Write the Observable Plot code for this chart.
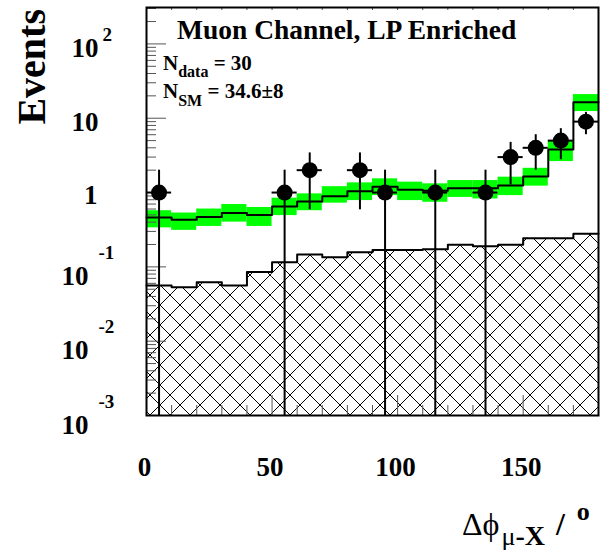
<!DOCTYPE html>
<html>
<head>
<meta charset="utf-8">
<script src="https://cdn.jsdelivr.net/npm/d3@7"></script>
<script src="https://cdn.jsdelivr.net/npm/@observablehq/plot@0.6"></script>
<style>
  html, body { margin: 0; padding: 0; background: #fff; overflow: hidden; }
  svg { display: block; }
  text { white-space: pre; }
</style>
</head>
<body>
<div id="chart"></div>
<script>
// ---- data ----
const binEdges = [0, 10, 20, 30, 40, 50, 60, 70, 80, 90, 100, 110, 120, 130, 140, 150, 160, 170];
const binWidth = 10;
const smValues   = [0.46, 0.43, 0.47, 0.53, 0.50, 0.65, 0.76, 0.89, 1.04, 1.20, 1.09, 1.06, 1.14, 1.14, 1.24, 1.64, 3.79, 16.4];
const smBandLow  = [0.335, 0.31, 0.35, 0.40, 0.35, 0.49, 0.57, 0.72, 0.78, 0.91, 0.78, 0.74, 0.86, 0.82, 0.91, 1.22, 2.61, 12.3];
const smBandHigh = [0.57, 0.53, 0.60, 0.69, 0.63, 0.84, 0.96, 1.20, 1.35, 1.53, 1.38, 1.31, 1.45, 1.45, 1.61, 2.12, 4.86, 20.8];
const bgValues   = [0.056, 0.053, 0.062, 0.056, 0.085, 0.115, 0.147, 0.135, 0.157, 0.169, 0.169, 0.172, 0.198, 0.190, 0.198, 0.243, 0.243, 0.278];
const dataX = [5, 55, 65, 85, 95, 115, 135, 145, 155, 165, 175];
const dataN = [1, 1, 2, 2, 1, 1, 1, 3, 4, 5, 9];
const xTickMajor = [0, 50, 100, 150];
const xTickMinor = [10, 20, 30, 40, 60, 70, 80, 90, 110, 120, 130, 140, 160, 170];
const yTickMajor = [1e-3, 1e-2, 1e-1, 1, 10, 100];
const yTickBase  = ["10", "10", "10", "1", "10", "10"];
const yTickExp   = ["-3", "-2", "-1", "", "", "2"];
const yDomain = [1e-3, 309];
const titleText = "Muon Channel, LP Enriched";
const yTitle = "Events";

// ---- derived tables ----
const bins = binEdges.map((x0, i) => ({x0, x1: x0 + binWidth, sm: smValues[i], lo: smBandLow[i], hi: smBandHigh[i], bg: bgValues[i]}));
const last = bins[bins.length - 1];
const stepSM = [...bins.map(b => ({x: b.x0, y: b.sm})), {x: last.x1, y: last.sm}];
const stepBG = [...bins.map(b => ({x: b.x0, y: b.bg})), {x: last.x1, y: last.bg}];
const pts = dataX.map((x, i) => {
  const n = dataN[i], e = Math.sqrt(n);
  return {x, n, lo: Math.max(n - e, yDomain[0]), hi: n + e};
});
const yMinor = d3.scaleLog().domain(yDomain).ticks().filter(v => !yTickMajor.some(m => Math.abs(m - v) / v < 1e-6));
const yLabels = yTickMajor.map((v, i) => ({v, base: yTickBase[i], exp: yTickExp[i]}));

const serif = "'Liberation Serif', 'Times New Roman', Times, serif";
const tickColor = "#555";

const chart = Plot.plot({
  width: 601,
  height: 551,
  marginLeft: 146,
  marginRight: 3,
  marginTop: 7,
  marginBottom: 136,
  x: {domain: [0, 180], axis: null},
  y: {type: "log", domain: yDomain, axis: null},
  marks: [
    Plot.rect(bins, {x1: "x0", x2: "x1", y1: () => yDomain[0], y2: "bg", fill: "url(#hatch)"}),
    Plot.line(stepBG, {x: "x", y: "y", curve: "step-after", stroke: "black", strokeWidth: 2}),
    Plot.rect(bins, {x1: "x0", x2: "x1", y1: "lo", y2: "hi", fill: "#00ff00"}),
    Plot.line(stepSM, {x: "x", y: "y", curve: "step-after", stroke: "black", strokeWidth: 2}),
    // inner ticks
    Plot.tickY(yMinor, {y: d => d, insetRight: 442, stroke: tickColor}),
    Plot.tickY(yTickMajor, {y: d => d, insetRight: 432, stroke: tickColor}),
    Plot.tickX(xTickMinor, {x: d => d, insetTop: 398, stroke: tickColor}),
    Plot.tickX(xTickMajor, {x: d => d, insetTop: 388, stroke: tickColor}),
    Plot.tickX([...xTickMinor, ...xTickMajor], {x: d => d, insetBottom: 405, stroke: tickColor}),
    // data with error bars
    Plot.ruleX(pts, {x: "x", y1: "lo", y2: "hi", stroke: "black", strokeWidth: 2}),
    Plot.ruleY(pts, {y: "n", x1: d => d.x - binWidth / 2, x2: d => d.x + binWidth / 2, stroke: "black", strokeWidth: 2}),
    Plot.dot(pts, {x: "x", y: "n", r: 8, fill: "black", stroke: "none"}),
    Plot.frame({stroke: "black", strokeWidth: 2}),
    // x tick labels
    Plot.text(xTickMajor, {x: d => d, text: d => String(d), frameAnchor: "bottom", dy: 60, dx: -2, lineAnchor: "bottom",
      fontSize: 27, fontWeight: "bold", fontFamily: serif, fill: "black"}),
    // y tick labels (base)
    Plot.text(yLabels.filter(d => d.v > 1), {y: "v", text: "base", frameAnchor: "left", textAnchor: "end", dx: -48, dy: 13,
      lineAnchor: "bottom", fontSize: 27, fontWeight: "bold", fontFamily: serif, fill: "black"}),
    Plot.text(yLabels.filter(d => d.v === 1), {y: "v", text: "base", frameAnchor: "left", textAnchor: "end", dx: -49, dy: 11,
      lineAnchor: "bottom", fontSize: 27, fontWeight: "bold", fontFamily: serif, fill: "black"}),
    Plot.text(yLabels.filter(d => d.v < 1), {y: "v", text: "base", frameAnchor: "left", textAnchor: "end", dx: -58, dy: 18,
      lineAnchor: "bottom", fontSize: 27, fontWeight: "bold", fontFamily: serif, fill: "black"}),
    // y tick labels (exponent)
    Plot.text(yLabels.filter(d => d.v > 1 && d.exp), {y: "v", text: "exp", frameAnchor: "left", textAnchor: "start", dx: -44, dy: -3,
      lineAnchor: "bottom", fontSize: 19, fontWeight: "bold", fontFamily: serif, fill: "black"}),
    Plot.text(yLabels.filter(d => d.v < 1), {y: "v", text: "exp", frameAnchor: "left", textAnchor: "start", dx: -48, dy: -8,
      lineAnchor: "bottom", fontSize: 19, fontWeight: "bold", fontFamily: serif, fill: "black"})
  ]
});

document.getElementById("chart").appendChild(chart);

const svg = d3.select(chart);
svg.append("defs").html(
  `<pattern id="hatch" patternUnits="userSpaceOnUse" width="20" height="20" x="10" y="15">
     <path d="M-5,-5L25,25M25,-5L-5,25" stroke="#000" stroke-width="1" fill="none"/>
   </pattern>`);

const ann = svg.append("g").attr("text-anchor", "start").attr("fill", "black");

// title inside the frame
ann.append("text")
  .attr("x", 177).attr("y", 39)
  .attr("font-family", serif).attr("font-weight", "bold").attr("font-size", 27.5)
  .text(titleText);

// N_data
const t1 = ann.append("text").attr("x", 163).attr("y", 70)
  .attr("font-family", serif).attr("font-weight", "bold").attr("font-size", 21);
t1.append("tspan").text("N");
t1.append("tspan").attr("font-size", 16).attr("dy", 7).text("data");
t1.append("tspan").attr("dy", -7).text(" = 30");

// N_SM
const t2 = ann.append("text").attr("x", 163).attr("y", 98)
  .attr("font-family", serif).attr("font-weight", "bold").attr("font-size", 21);
t2.append("tspan").text("N");
t2.append("tspan").attr("font-size", 16).attr("dy", 8).text("SM");
t2.append("tspan").attr("dy", -8).text(" = 34.6\u00b18");

// y title
ann.append("text")
  .attr("transform", "translate(45,9) rotate(-90)")
  .attr("text-anchor", "end")
  .attr("font-family", serif).attr("font-weight", "bold").attr("font-size", 40)
  .text(yTitle);

// x title
const xt = ann.append("text").attr("x", 462).attr("y", 535)
  .attr("font-family", serif).attr("font-size", 32);
xt.append("tspan").text("\u0394\u03d5");
xt.append("tspan").attr("font-size", 26).attr("dy", 10).attr("dx", 2).text("\u03bc");
xt.append("tspan").attr("font-size", 28).attr("font-weight", "bold").text("-X");
xt.append("tspan").attr("font-weight", "bold").attr("dy", -10).attr("dx", 3).text(" / ");
xt.append("tspan").attr("font-size", 26).attr("font-weight", "bold").attr("dy", -15).attr("dx", 4).text("o");
</script>
</body>
</html>
